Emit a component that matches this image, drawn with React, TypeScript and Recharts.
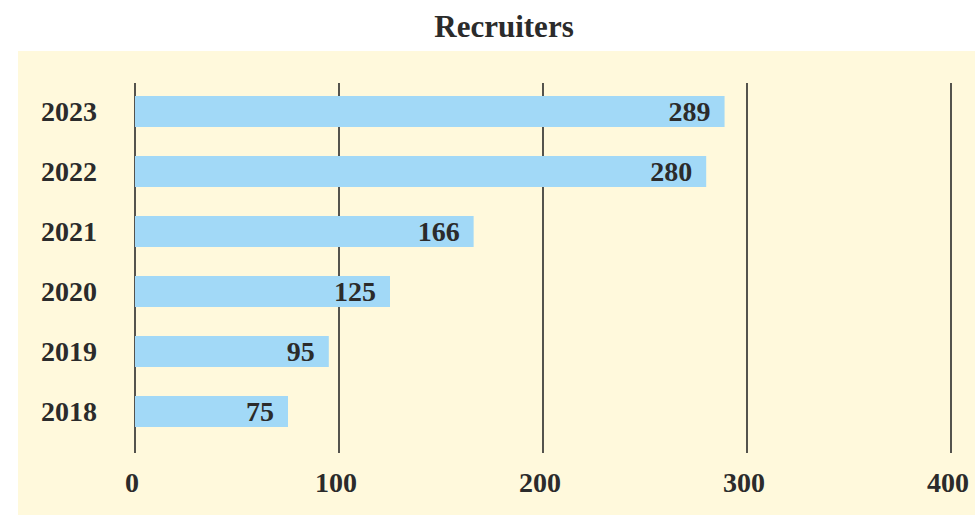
import React from "react";
import { BarChart, Bar, XAxis, YAxis, CartesianGrid, LabelList } from "recharts";

const years = ["2023", "2022", "2021", "2020", "2019", "2018"];
const recruiters = [289, 280, 166, 125, 95, 75];
const xTicks = [0, 100, 200, 300, 400];

const data = years.map((y, i) => ({ year: y, value: recruiters[i] }));

const FONT = "'Liberation Serif', 'DejaVu Serif', serif";
const TEXT = "#2b2b2b";

export default function App() {
  return (
    <div style={{ position: "absolute", left: 0, top: 0, width: 975, height: 515, background: "#ffffff", fontFamily: FONT }}>
      <div style={{ position: "absolute", left: 18, top: 51, width: 957, height: 464, background: "#fff9dc" }} />
      <div
        style={{
          position: "absolute",
          left: 0,
          top: 11,
          width: 975,
          paddingLeft: 33,
          boxSizing: "border-box",
          textAlign: "center",
          fontSize: 31,
          lineHeight: "31px",
          fontWeight: 700,
          color: TEXT,
        }}
      >
        Recruiters
      </div>
      <div style={{ position: "absolute", left: 0, top: 0 }}>
        <BarChart
          width={975}
          height={515}
          data={data}
          layout="vertical"
          margin={{ top: 83, right: 24, bottom: 32, left: 0 }}
        >
          <CartesianGrid horizontal={false} vertical={true} stroke="#2a2a2a" strokeWidth={1.6} />
          <XAxis
            type="number"
            domain={[0, 400]}
            ticks={xTicks}
            axisLine={false}
            tickLine={false}
            tickSize={0}
            tickMargin={19}
            height={30}
            tick={{ fill: TEXT, fontSize: 28, fontWeight: 700, fontFamily: FONT, dx: -3 }}
          />
          <YAxis
            type="category"
            dataKey="year"
            width={135}
            axisLine={false}
            tickLine={false}
            tickSize={0}
            tickMargin={38}
            padding={{ top: -2, bottom: 12 }}
            tick={{ fill: TEXT, fontSize: 28, fontWeight: 700, fontFamily: FONT }}
          />
          <Bar dataKey="value" fill="#a2d9f7" barSize={31} isAnimationActive={false}>
            <LabelList
              dataKey="value"
              position="insideRight"
              offset={14}
              style={{ fill: TEXT, fontSize: 28, fontWeight: 700, fontFamily: FONT }}
            />
          </Bar>
        </BarChart>
      </div>
    </div>
  );
}
